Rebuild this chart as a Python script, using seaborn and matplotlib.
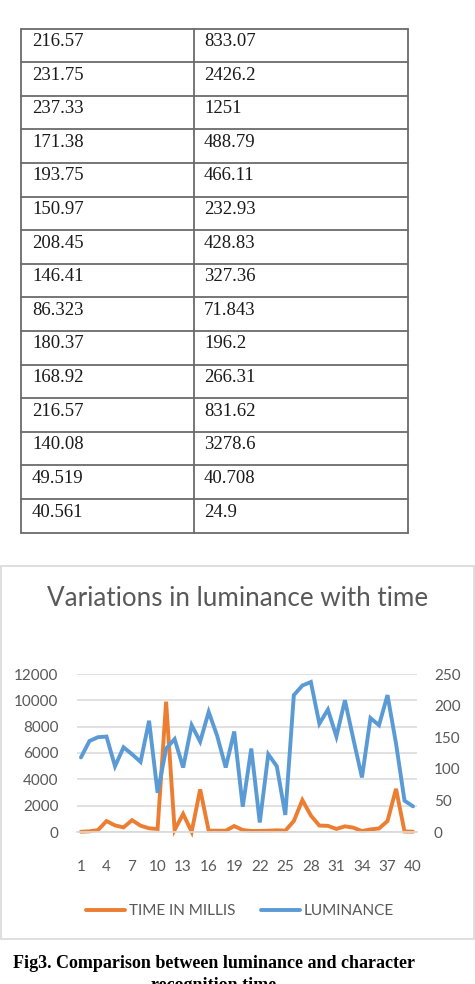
import matplotlib
matplotlib.use("Agg")
import matplotlib.pyplot as plt
import seaborn as sns
import pandas as pd
from matplotlib.patches import Rectangle

# sample index 1..40
samples = list(range(1, 41))

# character recognition time in ms (left axis)
time_ms = [20, 50, 150, 830, 500, 350, 900, 480, 280, 230,
           9900, 150, 1370, 20, 3240, 100, 100, 100, 450, 150,
           80, 80, 100, 130, 100,
           833.07, 2426.2, 1251, 488.79, 466.11, 232.93, 428.83, 327.36,
           71.843, 196.2, 266.31, 831.62, 3278.6, 40.708, 24.9]

# luminance (right axis)
luminance = [118, 144, 150, 151, 104, 134, 123, 111, 176, 62,
             132, 147, 102, 169, 143, 190, 152, 102, 159, 40,
             132, 15, 123, 104, 27,
             216.57, 231.75, 237.33, 171.38, 193.75, 150.97, 208.45, 146.41,
             86.323, 180.37, 168.92, 216.57, 140.08, 49.519, 40.561]

xtick_labels = [str(i) for i in range(1, 41, 3)]
left_ticks = [0, 2000, 4000, 6000, 8000, 10000, 12000]
right_ticks = [0, 50, 100, 150, 200, 250]

# the table above the chart lists the last 15 samples
table_first = 25

ORANGE = "#ED7D31"
BLUE = "#5B9BD5"
GREY_TXT = "#595959"
GRID = "#d9d9d9"

sns.set_theme(style="white")
plt.rcParams['font.family'] = ['Lato', 'DejaVu Sans']

W, H = 475, 984
fig = plt.figure(figsize=(W / 100, H / 100), dpi=100)


def fx(px):
    return px / W


def fy(py):
    return 1 - py / H


# ---- table ----
tab_top, tab_bot, tab_l, tab_r, tab_mid = 28.5, 532.7, 21, 407.5, 193.5
tax = fig.add_axes([fx(tab_l), fy(tab_bot), fx(tab_r - tab_l), (tab_bot - tab_top) / H])
n_rows = len(luminance) - table_first
tax.set_xlim(tab_l, tab_r)
tax.set_ylim(n_rows, 0)
tax.axis("off")
for i in range(n_rows + 1):
    tax.axhline(i, color="#6b6b6b", lw=1.3, clip_on=False)
for xv in (tab_l, tab_mid, tab_r):
    tax.axvline(xv, color="#6b6b6b", lw=1.3, clip_on=False)
for i in range(n_rows):
    lum = luminance[table_first + i]
    tms = time_ms[table_first + i]
    tax.text(tab_l + 11, i + 0.52, f"{lum:.5g}", family="Liberation Serif",
             fontsize=13.5, color="#1a1a1a", va="baseline", ha="left")
    tax.text(tab_mid + 10.5, i + 0.52, f"{tms:.5g}", family="Liberation Serif",
             fontsize=13.5, color="#1a1a1a", va="baseline", ha="left")

# ---- chart frame ----
fig.patches.append(Rectangle((fx(0.5), fy(939)), fx(473.5), (939 - 566) / H,
                             transform=fig.transFigure, fill=False,
                             edgecolor=GRID, lw=1.2))
fig.text(fx(238), fy(599), "Variations in luminance with time", ha="center",
         va="center", fontsize=18.7, color=GREY_TXT)

# ---- line chart ----
df = pd.DataFrame({"sample": samples, "time": time_ms, "lum": luminance})
ax = fig.add_axes([fx(76.7), fy(832), fx(417.3 - 76.7), (832 - 674) / H])
ax2 = ax.twinx()

sns.lineplot(data=df, x="sample", y="time", ax=ax, color=ORANGE, lw=2.8,
             label="TIME IN MILLIS", legend=False)
sns.lineplot(data=df, x="sample", y="lum", ax=ax2, color=BLUE, lw=2.8,
             label="LUMINANCE", legend=False)

ax.set_xlim(0.5, 40.5)
ax.set_ylim(0, 12000)
ax2.set_ylim(0, 250)
ax.set_yticks(left_ticks)
ax2.set_yticks(right_ticks)
ax.set_xticks(range(1, 41, 3))
ax.set_xticklabels(xtick_labels)
ax.set_xlabel("")
ax.set_ylabel("")
ax2.set_ylabel("")
ax.yaxis.grid(True, color=GRID, lw=1.1)
ax.set_axisbelow(True)
for a in (ax, ax2):
    for s in a.spines.values():
        s.set_visible(False)
    a.tick_params(length=0, labelsize=11, labelcolor=GREY_TXT)
ax.tick_params(axis="y", pad=13)
ax2.tick_params(axis="y", pad=12)
ax.tick_params(axis="x", pad=20)
ax.spines["bottom"].set_visible(True)
ax.spines["bottom"].set_color(GRID)
for ln in ax.lines + ax2.lines:
    ln.set_clip_on(False)
    ln.set_solid_joinstyle("miter")

h1, l1 = ax.get_legend_handles_labels()
h2, l2 = ax2.get_legend_handles_labels()
fig.legend(h1 + h2, l1 + l2, loc="center", bbox_to_anchor=(fx(240), fy(911)),
           ncol=2, frameon=False, fontsize=11, handlelength=2.55,
           handletextpad=0.26, columnspacing=1.63, labelcolor=GREY_TXT)

# ---- caption ----
fig.text(fx(214), fy(964), "Fig3. Comparison between luminance and character",
         family="Liberation Serif", weight="bold", fontsize=13, ha="center",
         va="center", color="black")
fig.text(fx(214), fy(985), "recognition time", family="Liberation Serif",
         weight="bold", fontsize=13, ha="center", va="center", color="black")

fig.savefig("out.png", dpi=100)
